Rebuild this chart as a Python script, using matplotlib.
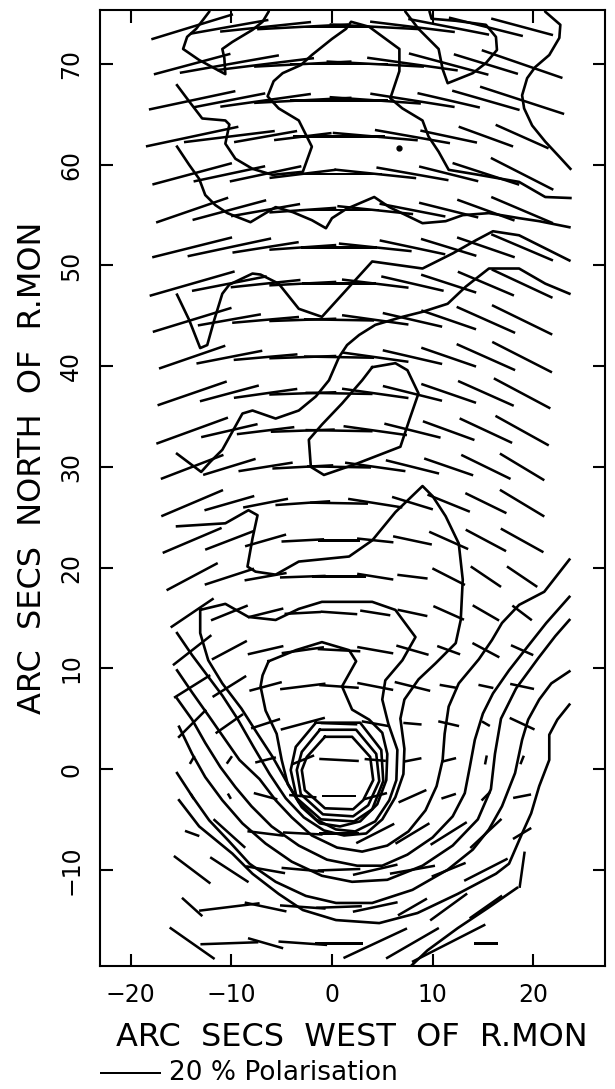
import numpy as np
import matplotlib
matplotlib.use('Agg')
import matplotlib.pyplot as plt

# ---------------- polarisation grid (arcsec) ----------------
col_x = [-13.9, -10.2, -6.6, -2.9, 0.7, 4.3, 8.0, 11.6, 15.3, 18.9]
row_y = [73.7, 70.0, 66.4, 62.8, 59.1, 55.5, 51.8, 48.2, 44.6, 40.9, 37.3,
         33.6, 30.0, 26.4, 22.7, 19.1, 15.5, 11.8, 8.2, 4.5, 0.9, -2.7,
         -6.4, -10.0, -13.7, -17.3]
nan = float('nan')
# position angle of E-vector (deg, from +x axis, counter-clockwise)
pol_angle = [
    [17, 10, 6, 3, 0, -3, -7, -11, -14, -15],
    [15, 10, 7, 3, 0, -3, -8, -15, -17, -19],
    [12, 11, 8, 3, 0, -4, -9, -13, -16, -18],
    [12, 7, 10, 7, 0, -5, -10, -12, -20, -24],
    [15, 12, 12, 7, 0, -6, -10, -14, -18, -27],
    [19, 15, 10, 4, 0, -6, -11, -14, -20, -23],
    [14, 12, 9, 4, 0, -6, -12, -17, -19, -23],
    [16, 11, 6, 3, 0, -7, -13, -18, -23, -25],
    [17, 10, 5, 2, -1, -8, -13, -19, -24, -26],
    [19, 11, 5, 2, -1, -8, -13, -19, -24, -27],
    [19, 15, 8, 2, -1, -8, -14, -19, -24, -28],
    [20, 13, 7, 2, -1, -8, -14, -20, -25, -29],
    [21, 17, 9, 3, -1, -8, -14, -19, -26, -31],
    [23, 16, 11, 4, -1, -9, -17, -22, -26, -31],
    [23, 21, 16, 3, 0, -6, -12, -24, -28, -29],
    [28, 18, 10, 2, 0, -9, -7, -27, -34, -34],
    [34, 22, 14, 3, -4, -9, -12, -24, -30, -37],
    [38, 28, 13, 8, -3, -10, -16, -20, -28, -24],
    [32, 32, 15, 7, -4, -11, -14, -10, -12, -12],
    [45, 35, 18, 15, -2, -10, -5, -13, -30, -25],
    [60, 55, 14, 22, -3, -5, 11, 14, 79, 68],
    [-60, -60, -15, -5, 0, 15, 24, 18, 45, 11],
    [-20, -42, -7, -3, 0, 27, 31, 32, 43, 31],
    [-37, -33, -10, -5, 2, 13, 10, 22, 27, 82],
    [-42, 7, -12, -4, 2, 12, 30, 36, 35, nan],
    [-35, 2, -16, -4, 0, 25, 30, 27, 0, nan],
]
# degree of polarisation (%)
pol_percent = [
    [28, 26, 30, 30, 30, 30, 28, 27, 25, 21],
    [26, 33, 32, 32, 32, 32, 30, 27, 22, 28],
    [29, 24, 30, 32, 32, 30, 28, 21, 23, 29],
    [31, 30, 21, 19, 30, 28, 25, 19, 19, 19],
    [27, 24, 24, 22, 28, 27, 24, 20, 23, 23],
    [25, 25, 23, 22, 26, 25, 22, 20, 20, 22],
    [27, 28, 22, 22, 25, 24, 22, 19, 20, 22],
    [29, 25, 23, 22, 24, 22, 21, 19, 20, 22],
    [27, 21, 22, 22, 23, 22, 20, 19, 21, 22],
    [23, 22, 21, 22, 23, 22, 20, 19, 21, 22],
    [24, 20, 21, 22, 22, 22, 20, 19, 20, 21],
    [25, 19, 19, 21, 22, 21, 19, 18, 19, 20],
    [22, 18, 18, 20, 21, 20, 18, 17, 18, 17],
    [22, 17, 15, 18, 19, 18, 14, 15, 15, 17],
    [21, 17, 14, 14, 14, 12, 13, 14, 15, 16],
    [19, 17, 14, 15, 18, 12, 10, 12, 12, 12],
    [17, 13, 12, 12, 12, 10, 10, 11, 10, 8],
    [16, 13, 12, 14, 14, 12, 11, 8, 10, 8],
    [14, 13, 11, 15, 13, 12, 12, 6, 5, 8],
    [13, 11, 10, 15, 12, 9, 6, 7, 3, 9],
    [3, 3, 7, 8, 13, 7, 6, 5, 3, 3],
    [2, 2, 8, 9, 11, 8, 10, 5, 4, 6],
    [5, 14, 12, 13, 13, 14, 13, 14, 14, 7],
    [15, 15, 13, 14, 14, 15, 15, 12, 16, 12],
    [9, 20, 14, 15, 15, 15, 11, 15, 13, nan],
    [18, 19, 12, 16, 16, 23, 20, 27, 8, nan],
]
arcsec_per_percent = 0.303
key_percent = 20

# ---------------- intensity contours (arcsec) ----------------
contour_A = [(-12.0, 76.5), (-12.2, 75.2), (-13.5, 73.5), (-14.4, 72.7), (-14.8, 71.5),
             (-13.2, 70.4), (-10.6, 69.0), (-10.7, 70.6), (-10.9, 71.5), (-9.9, 72.2),
             (-7.9, 73.4), (-6.9, 74.2), (-6.3, 75.2), (-6.0, 76.5)]
contour_B = [(-15.4, 67.9), (-14.2, 66.3), (-12.9, 64.6), (-10.6, 64.4), (-10.2, 64.0),
             (-10.6, 62.1), (-9.6, 60.6), (-7.9, 59.6), (-5.9, 59.0), (-2.9, 59.3),
             (-2.0, 61.8), (-3.3, 64.4), (-5.3, 65.6), (-6.4, 66.8), (-5.8, 68.3),
             (-4.9, 69.1), (-3.1, 69.9), (-2.0, 70.9), (0.0, 72.5), (1.4, 73.5),
             (1.9, 74.2), (3.7, 73.7), (6.7, 71.5), (6.7, 69.3), (5.8, 66.6),
             (7.0, 65.6), (9.0, 64.4), (9.6, 62.8), (10.6, 61.3), (11.6, 59.5),
             (14.6, 59.0), (18.6, 58.3), (21.2, 56.8), (23.7, 56.7)]
contour_C = [(7.0, 76.5), (7.3, 75.2), (8.6, 73.5), (10.6, 71.5), (11.0, 69.5),
             (11.5, 68.1), (14.0, 69.1), (15.3, 70.1), (16.4, 71.4), (16.3, 72.7),
             (15.3, 73.9), (12.3, 74.3), (9.9, 74.5), (9.7, 75.2), (9.7, 76.5)]
contour_D = [(21.0, 76.5), (21.2, 75.2), (22.7, 73.9), (22.6, 72.6), (21.6, 70.9),
             (20.2, 69.7), (19.4, 68.6), (18.9, 66.9), (19.1, 65.6), (19.9, 63.9),
             (21.2, 62.3), (22.6, 60.8), (23.7, 59.6)]
contour_W = [(-15.4, 61.8), (-14.2, 60.0), (-13.2, 58.6), (-12.6, 57.0), (-11.6, 56.0),
             (-10.4, 55.2), (-8.1, 54.3), (-5.6, 55.8), (-3.9, 55.3), (-2.0, 54.5),
             (-0.6, 53.7), (0.0, 54.7), (1.4, 55.6), (4.2, 56.8), (5.7, 55.8),
             (9.0, 54.2), (11.3, 54.4), (13.0, 55.0), (15.6, 55.2), (18.6, 54.7),
             (20.6, 54.4), (23.6, 53.8)]
contour_E = [(-15.4, 47.1), (-14.2, 44.6), (-13.1, 41.8), (-12.4, 42.1), (-11.7, 44.6),
             (-10.9, 47.2), (-10.2, 48.1), (-7.9, 49.2), (-7.1, 49.1), (-5.3, 48.2),
             (-3.3, 45.7), (-1.0, 44.9), (4.0, 50.4), (9.0, 49.7), (12.0, 51.2),
             (14.3, 52.5), (16.0, 53.4), (18.6, 53.0), (20.6, 52.0), (22.2, 51.2),
             (23.6, 50.5)]
contour_F = [(-15.4, 31.3), (-13.0, 29.5), (-12.1, 30.5), (-10.9, 31.7), (-9.9, 33.5),
             (-8.9, 35.3), (-7.9, 35.6), (-5.6, 34.8), (-3.3, 35.6), (-1.6, 37.0),
             (-0.3, 38.6), (0.7, 40.9), (1.5, 42.1), (2.7, 43.1), (4.3, 44.1),
             (7.0, 44.9), (9.0, 45.4), (11.5, 46.2), (13.3, 47.9), (15.6, 49.7),
             (18.6, 49.7), (21.2, 48.2), (23.6, 47.2)]
contour_G = [(4.0, 39.9), (6.3, 40.3), (7.5, 39.6), (8.6, 37.3), (7.7, 34.7),
             (6.8, 32.0), (2.4, 30.3), (-0.8, 29.2), (-2.1, 30.0), (-2.3, 32.7),
             (-1.0, 34.2), (1.0, 36.3), (3.0, 38.6), (4.0, 39.9)]
contour_I = [(-15.4, 13.5), (-13.9, 11.3), (-12.4, 9.3), (-10.9, 7.3), (-9.4, 5.0),
             (-7.8, 2.2), (-6.2, -0.5), (-4.6, -2.9), (-2.8, -4.8), (-0.8, -6.1),
             (1.2, -6.6), (3.4, -6.4), (5.0, -5.0), (6.3, -2.8), (7.1, -0.5),
             (7.2, 2.0), (6.8, 5.0), (7.2, 6.9), (8.6, 8.9), (10.3, 10.5),
             (12.3, 12.5), (12.8, 14.8), (12.9, 16.8), (13.0, 18.8), (12.6, 22.4),
             (11.3, 25.1), (10.0, 27.1), (9.0, 28.1), (6.3, 25.5), (4.0, 22.7),
             (1.7, 21.1), (-3.3, 20.6), (-5.6, 19.3), (-7.6, 19.6), (-8.4, 20.1),
             (-7.9, 22.9), (-7.4, 25.2), (-8.3, 25.7), (-10.6, 24.4), (-15.4, 24.1)]
contour_H = [(-13.1, 15.8), (-13.1, 13.5), (-12.3, 10.8), (-10.9, 8.5), (-9.0, 6.0),
             (-7.4, 3.5), (-5.9, 1.2), (-4.6, -1.1), (-3.3, -3.3), (-1.6, -5.0),
             (0.4, -6.0), (2.3, -6.2), (4.3, -5.2), (5.7, -3.1), (6.4, -1.1),
             (6.5, 1.9), (5.6, 4.5), (5.0, 6.9), (5.3, 8.8), (7.0, 10.8),
             (8.3, 13.1), (6.3, 15.8), (4.0, 16.6), (-1.0, 16.6), (-3.3, 15.9),
             (-5.6, 14.8), (-8.3, 15.1), (-10.6, 16.4), (-13.1, 15.8)]
contour_J = [(-6.3, 10.7), (-3.6, 11.8), (-1.0, 12.6), (1.7, 11.8), (2.4, 10.7),
             (1.0, 8.2), (2.0, 5.9), (3.7, 4.9), (5.0, 3.6), (5.5, 1.5),
             (5.4, -1.1), (4.5, -3.5), (2.8, -5.2), (0.8, -5.7), (-1.2, -5.4),
             (-3.0, -3.8), (-4.4, -1.5), (-5.0, 0.9), (-5.5, 3.5), (-6.6, 5.8),
             (-7.1, 8.2), (-6.9, 9.3), (-6.3, 10.7)]
contour_R1 = [(-0.7, 3.2), (2.0, 3.2), (3.8, 1.2), (4.1, -1.1), (3.1, -3.1), (2.1, -4.0),
              (-0.7, -3.9), (-2.7, -2.1), (-3.0, -0.1), (-2.5, 1.2), (-0.7, 3.2)]
contour_R2 = [(-1.2, 3.9), (2.4, 3.9), (4.4, 1.5), (4.7, -1.2), (3.6, -3.6), (2.1, -4.7),
              (-0.9, -4.5), (-3.1, -2.5), (-3.5, -0.1), (-3.0, 1.7), (-1.2, 3.9)]
contour_R3 = [(-1.6, 4.6), (2.8, 4.6), (4.9, 1.9), (5.1, -1.2), (4.0, -4.0), (2.2, -5.2),
              (-1.1, -5.0), (-3.5, -2.9), (-4.1, -0.1), (-3.6, 2.2), (-1.6, 4.6)]
contour_U2 = [(-15.4, 9.8), (-13.9, 7.6), (-12.2, 5.2), (-10.6, 2.9), (-9.2, 0.9),
              (-7.2, -1.0), (-5.6, -3.1), (-4.0, -4.8), (-2.0, -6.6), (0.5, -7.8),
              (3.0, -8.2), (5.5, -7.6), (7.6, -6.2), (9.3, -4.1), (10.4, -1.7),
              (11.0, 0.9), (11.2, 3.5), (11.6, 6.2), (12.6, 8.5), (14.6, 10.9),
              (15.9, 12.8), (16.9, 14.5), (18.6, 16.3), (21.1, 17.6), (23.6, 20.8)]
contour_U3 = [(-15.4, 7.0), (-13.9, 4.9), (-12.6, 2.6), (-11.1, 0.2), (-9.6, -1.8),
              (-8.0, -3.7), (-6.0, -5.7), (-3.3, -7.6), (-0.5, -9.0), (2.5, -9.6),
              (5.0, -9.6), (7.5, -8.5), (10.0, -6.8), (12.0, -4.7), (13.2, -2.4),
              (13.7, 0.2), (14.2, 2.9), (15.0, 5.5), (16.0, 7.5), (17.6, 9.8),
              (19.4, 12.1), (21.3, 14.5), (23.6, 17.1)]
contour_U4 = [(-15.2, 4.2), (-13.9, 1.5), (-12.6, -0.8), (-10.9, -3.1), (-8.9, -5.4),
              (-6.6, -7.4), (-4.0, -9.2), (-1.0, -10.6), (2.0, -11.2), (5.5, -11.0),
              (9.0, -9.6), (12.0, -7.6), (14.5, -5.0), (15.8, -2.0), (16.2, 1.5),
              (16.8, 5.0), (18.3, 8.0), (20.5, 11.0), (22.2, 13.2), (23.6, 14.8)]
contour_U5 = [(-15.4, -0.4), (-13.9, -2.7), (-12.2, -5.1), (-10.3, -7.1), (-8.2, -9.4),
              (-5.6, -11.2), (-2.6, -12.6), (0.4, -13.3), (4.0, -13.3), (8.0, -12.0),
              (11.5, -10.0), (14.0, -8.0), (15.6, -6.0), (16.9, -3.7), (18.2, -0.4),
              (18.9, 2.9), (19.5, 4.9), (20.6, 6.9), (21.8, 8.5), (23.6, 9.7)]
contour_U6 = [(-15.2, -3.1), (-13.2, -5.7), (-9.9, -8.4), (-7.9, -10.4), (-5.3, -12.4),
              (-2.9, -14.0), (0.4, -15.0), (4.7, -15.3), (8.5, -14.3), (12.5, -12.4),
              (16.3, -10.4), (17.6, -9.4), (18.9, -6.4), (19.8, -4.4), (20.6, -1.7),
              (21.6, 0.9), (21.6, 3.4), (22.4, 4.9), (23.6, 6.4)]
contour_U7 = [(18.4, -11.8), (15.5, -13.8), (12.5, -15.8), (9.5, -18.0), (7.5, -19.9)]
contours = [contour_A, contour_B, contour_C, contour_D, contour_W, contour_E,
            contour_F, contour_G, contour_I, contour_H, contour_J, contour_R1,
            contour_R2, contour_R3, contour_U2, contour_U3, contour_U4,
            contour_U5, contour_U6, contour_U7]
peak_dot = (6.7, 61.7)

x_ticks = [-20, -10, 0, 10, 20]
y_ticks = [-10, 0, 10, 20, 30, 40, 50, 60, 70]
x_label = 'ARC  SECS  WEST  OF  R.MON'
y_label = 'ARC  SECS  NORTH  OF  R.MON'
key_label = '20 % Polarisation'

# ---------------- figure ----------------
plt.rcParams['font.family'] = ['DejaVu Sans']
W, H = 615, 1089
fig = plt.figure(figsize=(W / 100, H / 100), dpi=100)
ax = fig.add_axes([100 / W, (H - 966) / H, 505 / W, 956 / H])
ax.set_xlim(-23.06, 27.14)
ax.set_ylim(-19.56, 75.37)

for c in contours:
    xs = [p[0] for p in c]
    ys = [p[1] for p in c]
    ax.plot(xs, ys, color='black', lw=1.9, solid_joinstyle='round')
ax.plot([peak_dot[0]], [peak_dot[1]], 'o', color='black', ms=3.5)

X, Y = np.meshgrid(col_x, row_y)
ang = np.radians(np.array(pol_angle, dtype=float))
pc = np.array(pol_percent, dtype=float)
U = np.ma.masked_invalid(pc * np.cos(ang))
V = np.ma.masked_invalid(pc * np.sin(ang))
q = ax.quiver(X, Y, U, V, angles='xy', scale_units='xy',
              scale=1.0 / arcsec_per_percent, pivot='mid',
              headwidth=0, headlength=0, headaxislength=0,
              width=0.005, color='black', minlength=0)

ax.quiverkey(q, X=161 / W, Y=(H - 1073) / H, U=key_percent, label=key_label,
             labelpos='E', coordinates='figure', labelsep=0.08,
             fontproperties={'size': 19})

ax.set_xticks(x_ticks)
ax.set_yticks(y_ticks)
ax.tick_params(direction='in', length=9, width=1.5, top=True, right=True,
               labelsize=17, pad=12)
ax.tick_params(axis='y', labelrotation=90)
for lbl in ax.get_yticklabels():
    lbl.set_va('center')
for s in ax.spines.values():
    s.set_linewidth(1.5)

fig.text(352 / W, 1 - 1037 / H, x_label, ha='center', va='center', fontsize=23)
fig.text(33 / W, 1 - 468 / H, y_label, ha='center', va='center', fontsize=23,
         rotation=90)

fig.savefig('out.png', dpi=100)
